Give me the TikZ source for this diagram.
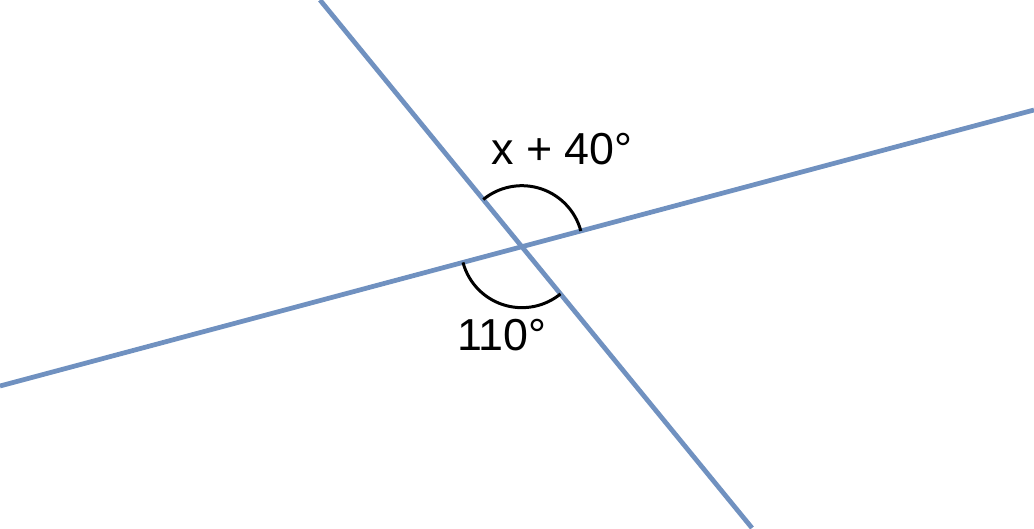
\documentclass[tikz,border=0pt]{standalone}
\usepackage{fontspec}
\setmainfont{Liberation Sans}
\usetikzlibrary{angles}
\usetikzlibrary{calc}

\definecolor{lineblue}{RGB}{112,145,192}

\begin{document}
\begin{tikzpicture}[x=0.02cm,y=0.02cm,
    lineblue/.style={draw=lineblue, line width=0.095cm},
    anglearc/.style={draw, black, line width=0.06cm, angle radius=1.22cm},
    anglelabel/.style={anchor=base, font=\fontsize{25.5}{30}\selectfont}]
    \useasboundingbox (0,0) rectangle (1034,528);
    \coordinate (A) at (0,142);
    \coordinate (B) at (1034,418);
    \coordinate (C) at (320,528);
    \coordinate (D) at (752,0);
    \coordinate (O) at (intersection of A--B and C--D);
    \draw[lineblue] (A) -- (B);
    \draw[lineblue] (C) -- (D);
    % angle arcs
    \pic[anglearc] {angle = B--O--C};
    \pic[anglearc] {angle = A--O--D};
    \node[anglelabel] (upper) at (562,363) {x + 40°};
    \node[anglelabel] (lower) at (502,178) {110°};
\end{tikzpicture}
\end{document}
